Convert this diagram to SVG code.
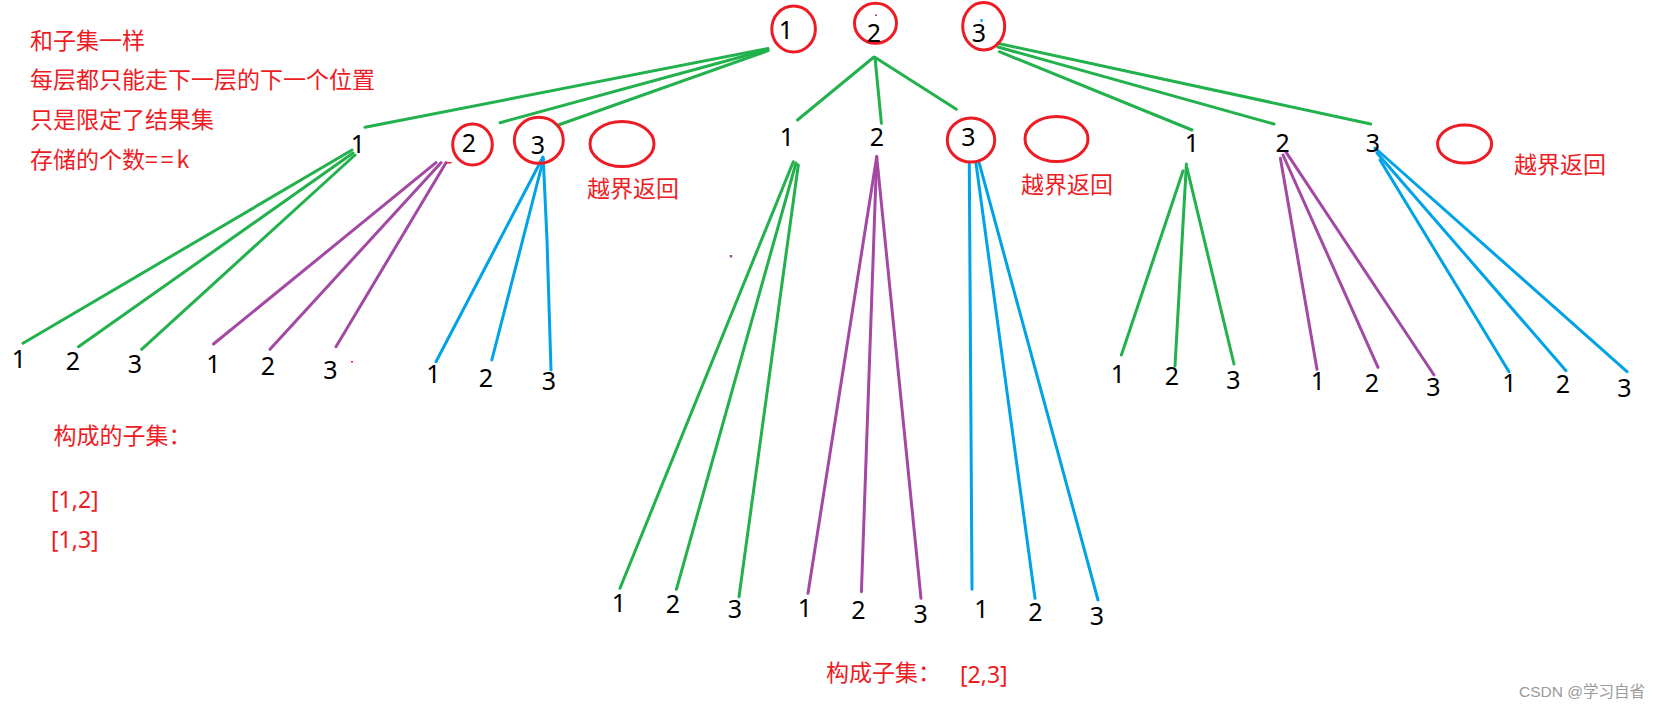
<svg xmlns="http://www.w3.org/2000/svg" width="1660" height="709" viewBox="0 0 1660 709">
<style>
.bg{fill:#ffffff}
.cn{font-family:"Noto Sans CJK SC","Noto Sans",sans-serif;font-size:23px;fill:#ee1c25}
.lat{font-family:"Noto Sans","Noto Sans CJK SC",sans-serif;font-size:23px;fill:#ee1c25}
.d{font-family:"Noto Sans","Noto Sans CJK SC",sans-serif;font-size:25px;fill:#000000;text-anchor:middle}
.ring{fill:none;stroke:#ed1c24;stroke-width:3}
.g{stroke:#22b14c;stroke-width:3;fill:none;stroke-linecap:round}
.p{stroke:#a349a4;stroke-width:3;fill:none;stroke-linecap:round}
.b{stroke:#00a2e8;stroke-width:3;fill:none;stroke-linecap:round}
.wm{font-family:"Liberation Sans","Noto Sans CJK SC",sans-serif;font-size:15.5px;fill:#9a9a9a;text-anchor:end}
</style>
<rect class="bg" x="0" y="0" width="1660" height="709"/>

<g id="notes">
<text class="cn" x="30" y="49">和子集一样</text>
<text class="cn" x="30" y="88">每层都只能走下一层的下一个位置</text>
<text class="cn" x="30" y="128">只是限定了结果集</text>
<text class="cn" x="30" y="168">存储的个数<tspan letter-spacing="3">==</tspan>k</text>
<text class="cn" x="53.6" y="444">构成的子集：</text>
<text class="lat" x="51" y="508">[1,2]</text>
<text class="lat" x="51" y="548">[1,3]</text>
<text class="cn" x="826" y="681">构成子集：</text>
<text class="lat" x="960" y="683">[2,3]</text>
<text class="cn" x="587" y="197">越界返回</text>
<text class="cn" x="1021" y="193">越界返回</text>
<text class="cn" x="1514" y="173">越界返回</text>
<text class="wm" x="1645" y="697">CSDN @学习自省</text>
</g>

<g id="connectors">
<line class="g" x1="768" y1="48.5" x2="365" y2="127.3"/>
<line class="g" x1="768" y1="49.5" x2="500" y2="122.7"/>
<line class="g" x1="768" y1="50.7" x2="558.3" y2="125"/>
<line class="g" x1="874" y1="57" x2="797.5" y2="120"/>
<line class="g" x1="875" y1="57.5" x2="881.4" y2="123.3"/>
<line class="g" x1="876" y1="58" x2="956.4" y2="109.3"/>
<line class="g" x1="997.5" y1="43.3" x2="1370.7" y2="124"/>
<line class="g" x1="998" y1="47" x2="1274" y2="124"/>
<line class="g" x1="999.3" y1="51.7" x2="1192" y2="130"/>
<line class="g" x1="352" y1="150" x2="23" y2="343.3"/>
<line class="g" x1="353" y1="153" x2="78.5" y2="346.7"/>
<line class="g" x1="355" y1="155" x2="141.6" y2="349.3"/>
<line class="p" x1="436" y1="162.7" x2="213.5" y2="344"/>
<line class="p" x1="441" y1="162.7" x2="270" y2="349.3"/>
<line class="p" x1="446" y1="162.7" x2="336" y2="346.7"/>
<line x1="446" y1="162.7" x2="451.6" y2="162.7" stroke="#ed1c24" stroke-width="1.5"/>
<line class="b" x1="543" y1="157" x2="436" y2="361.7"/>
<line class="b" x1="543.5" y1="159" x2="491.8" y2="360"/>
<polyline class="b" points="543.4,161.7 547,240 551,370"/>
<line class="g" x1="793.3" y1="161.7" x2="620" y2="588.3"/>
<line class="g" x1="796" y1="163" x2="676.4" y2="589.3"/>
<line class="g" x1="798.3" y1="165" x2="739" y2="596.7"/>
<line class="p" x1="876.7" y1="156.7" x2="808" y2="593.3"/>
<line class="p" x1="876.7" y1="156.7" x2="861.4" y2="591.7"/>
<line class="p" x1="876.7" y1="156.7" x2="921" y2="598.3"/>
<line class="b" x1="969.3" y1="163.3" x2="972" y2="589.3"/>
<line class="b" x1="976" y1="163.3" x2="1035" y2="598.3"/>
<line class="b" x1="979.3" y1="163.3" x2="1098" y2="600"/>
<line class="g" x1="1183" y1="171" x2="1121.4" y2="355"/>
<line class="g" x1="1186.4" y1="164" x2="1175" y2="366"/>
<line class="g" x1="1187" y1="168" x2="1234" y2="364"/>
<line class="p" x1="1280.4" y1="158.3" x2="1317" y2="369.3"/>
<line class="p" x1="1283" y1="155" x2="1378" y2="367.3"/>
<line class="p" x1="1285.7" y1="151.7" x2="1434" y2="375"/>
<line class="b" x1="1380" y1="160" x2="1509" y2="371.7"/>
<line class="b" x1="1377" y1="153" x2="1566" y2="370.7"/>
<line class="b" x1="1375" y1="148" x2="1627" y2="371.7"/>
</g>

<g id="marks">
<rect x="980.5" y="19" width="2" height="3" fill="#00a2e8"/>
<rect x="875" y="14.5" width="2" height="1.5" fill="#a349a4"/>
<rect x="729.7" y="255" width="2.5" height="2.5" fill="#a349a4"/>
<rect x="351" y="361" width="2" height="1.5" fill="#ed1c24"/>
</g>

<g id="n1"><ellipse class="ring" cx="793.6" cy="29" rx="21.8" ry="23"/><text class="d" x="785.8" y="39.3">1</text></g>
<g id="n2"><ellipse class="ring" cx="875.5" cy="23.3" rx="21" ry="20"/><text class="d" x="874" y="41.7">2</text></g>
<g id="n3"><ellipse class="ring" cx="983.7" cy="26.3" rx="21" ry="23.7"/><text class="d" x="978.8" y="41.7">3</text></g>

<g id="n1-1"><text class="d" x="358" y="152.7">1</text></g>
<g id="n1-2"><ellipse class="ring" cx="472.5" cy="144.5" rx="19.8" ry="20.5"/><text class="d" x="469" y="151.7">2</text></g>
<g id="n1-3"><ellipse class="ring" cx="538.8" cy="140.3" rx="24.5" ry="23"/><text class="d" x="538" y="154">3</text></g>
<g id="n1-x"><ellipse class="ring" cx="622" cy="144" rx="32" ry="22.5"/></g>

<g id="n2-1"><text class="d" x="787" y="145.5">1</text></g>
<g id="n2-2"><text class="d" x="877" y="146">2</text></g>
<g id="n2-3"><ellipse class="ring" cx="971" cy="140" rx="23.7" ry="22"/><text class="d" x="968.5" y="146">3</text></g>
<g id="n2-x"><ellipse class="ring" cx="1056.5" cy="139" rx="31.5" ry="22.5"/></g>

<g id="n3-1"><text class="d" x="1192" y="151.7">1</text></g>
<g id="n3-2"><text class="d" x="1282.7" y="151.7">2</text></g>
<g id="n3-3"><text class="d" x="1372.8" y="151.7">3</text></g>
<g id="n3-x"><ellipse class="ring" cx="1464.6" cy="144" rx="27" ry="19"/></g>

<g id="leaves-left">
<text class="d" x="19" y="368.3">1</text>
<text class="d" x="72.8" y="370">2</text>
<text class="d" x="135" y="373.3">3</text>
<text class="d" x="213.3" y="373.3">1</text>
<text class="d" x="267.8" y="375">2</text>
<text class="d" x="330.3" y="379.3">3</text>
<text class="d" x="433.3" y="383.3">1</text>
<text class="d" x="486" y="386.7">2</text>
<text class="d" x="549" y="390">3</text>
</g>
<g id="leaves-middle">
<text class="d" x="618.8" y="611.7">1</text>
<text class="d" x="673" y="613.3">2</text>
<text class="d" x="735" y="618.3">3</text>
<text class="d" x="805" y="616.7">1</text>
<text class="d" x="858.5" y="619.3">2</text>
<text class="d" x="920.7" y="622.7">3</text>
<text class="d" x="981.5" y="618.3">1</text>
<text class="d" x="1035.5" y="620.7">2</text>
<text class="d" x="1097" y="625">3</text>
</g>
<g id="leaves-right">
<text class="d" x="1118" y="383.3">1</text>
<text class="d" x="1172" y="385">2</text>
<text class="d" x="1233.5" y="389.3">3</text>
<text class="d" x="1317.8" y="390">1</text>
<text class="d" x="1372" y="391.7">2</text>
<text class="d" x="1433.5" y="396">3</text>
<text class="d" x="1509.3" y="391.7">1</text>
<text class="d" x="1563" y="393.3">2</text>
<text class="d" x="1624.3" y="397.3">3</text>
</g>
</svg>
